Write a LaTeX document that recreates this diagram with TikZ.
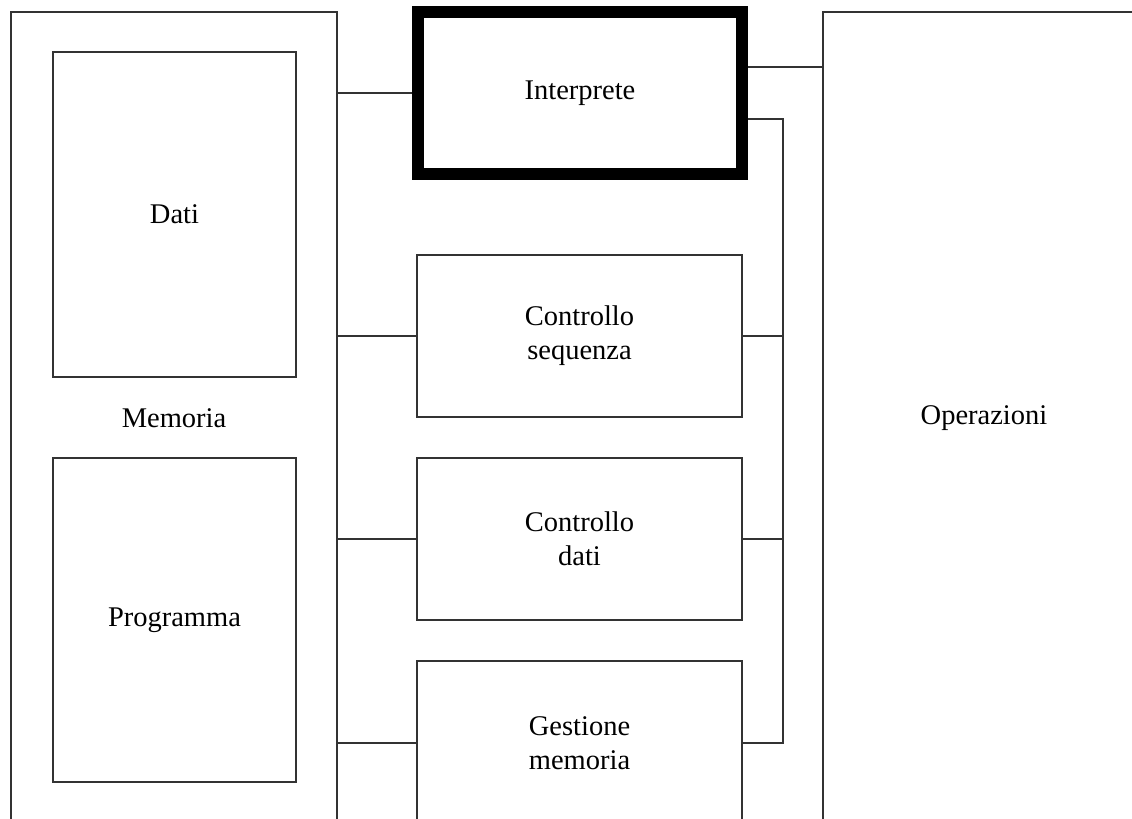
\documentclass[tikz,border=0pt]{standalone}
\usepackage{fontspec}
\setmainfont{Liberation Serif}
\usetikzlibrary{calc}

\begin{document}
\begin{tikzpicture}[x=0.5pt, y=-0.5pt, line join=miter,
  unitbox/.style={draw=black!80, line width=0.65pt, inner sep=0pt, align=center,
    font=\fontsize{14.25}{17}\selectfont},
  interpbox/.style={unitbox, draw=black, line width=6pt},
  link/.style={draw=black!80, line width=0.65pt}]
\useasboundingbox (0,0) rectangle (1132,819);
\clip (0,0) rectangle (1132,819);
\fill[white] (0,0) rectangle (1132,819);
% memoria
\node[unitbox, minimum width=163pt, minimum height=406pt] (mem) at (174,418) {Memoria};
\node[unitbox, minimum width=121.5pt, minimum height=162.5pt] (dati) at (174.5,214.5) {Dati};
\node[unitbox, minimum width=121.5pt, minimum height=162pt] (prog) at (174.5,620) {Programma};
% interprete e unita
\node[interpbox, minimum width=162pt, minimum height=81pt] (interp) at (580,93) {Interprete};
\node[unitbox, minimum width=162.5pt, minimum height=81pt] (ctrlseq) at (579.5,336) {Controllo\\sequenza};
\node[unitbox, minimum width=162.5pt, minimum height=81pt] (ctrldat) at (579.5,539) {Controllo\\dati};
\node[unitbox, minimum width=162.5pt, minimum height=82pt] (gestmem) at (579.5,743) {Gestione\\memoria};
% operazioni
\node[unitbox, minimum width=161pt, minimum height=406pt] (oper) at (984,418) {Operazioni};
% collegamenti
\coordinate (hiop) at (0,67);
\coordinate (rail) at (783,119);
\draw[link] (mem.east |- interp.west) -- (interp.west);
\draw[link] (mem.east |- ctrlseq.west) -- (ctrlseq.west);
\draw[link] (mem.east |- ctrldat.west) -- (ctrldat.west);
\draw[link] (mem.east |- gestmem.west) -- (gestmem.west);
\draw[link] (interp.east |- hiop) -- (oper.west |- hiop);
\draw[link] (interp.east |- rail) -- (rail) -- (rail |- gestmem.east) -- (gestmem.east);
\draw[link] (ctrlseq.east) -- (rail |- ctrlseq.east);
\draw[link] (ctrldat.east) -- (rail |- ctrldat.east);
\end{tikzpicture}
\end{document}
